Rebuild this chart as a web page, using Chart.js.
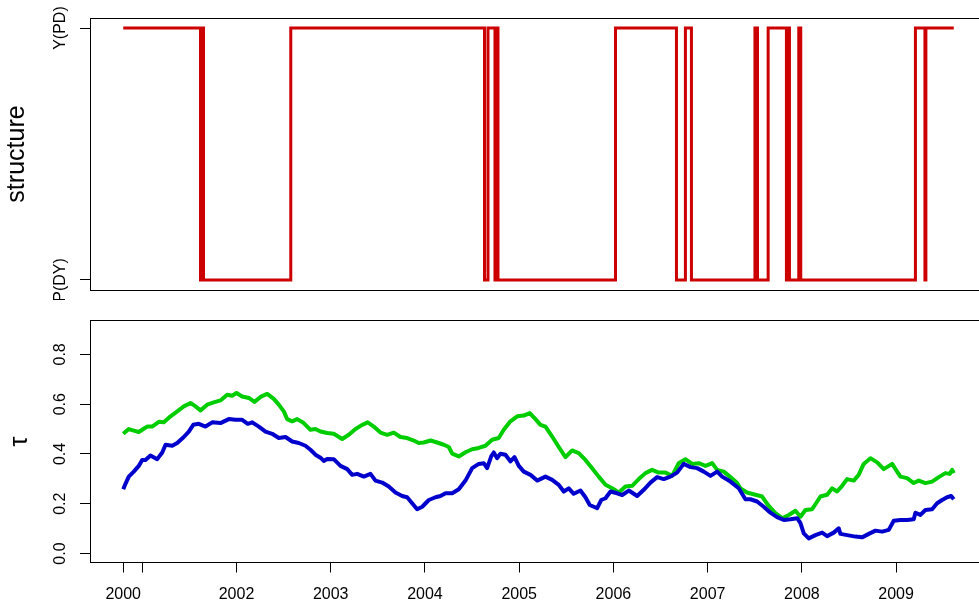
<!DOCTYPE html>
<html>
<head>
<meta charset="utf-8">
<script src="https://cdn.jsdelivr.net/npm/chart.js@4/dist/chart.umd.min.js"></script>
<style>
  html, body { margin: 0; padding: 0; background: #fff; overflow: hidden; width: 979px; height: 608px; }
  canvas { position: absolute; left: 0; }
  #structureChart { top: 0; }
  #tauChart { top: 300px; }
</style>
</head>
<body>
<canvas id="structureChart" width="996" height="300"></canvas>
<canvas id="tauChart" width="996" height="308"></canvas>
<script>
// Regime switches: each entry is the time (decimal year) at which the state starts.
const structureYears = [2000.798, 2001.618, 2001.634, 2001.650, 2002.576, 2004.632, 2004.669, 2004.743,
  2004.759, 2004.775, 2006.022, 2006.669, 2006.764, 2006.828, 2007.502, 2007.529, 2007.642, 2007.836,
  2007.852, 2007.868, 2007.967, 2007.988, 2009.205, 2009.306, 2009.316, 2009.612];
const structureStates = [1, 0, 1, 0, 1, 0, 1, 0, 1, 0, 1, 0, 1, 0, 1, 0, 1, 0, 1, 0, 1, 0, 1, 0, 1, 1];
const structureLevels = ['P(DY)', 'Y(PD)'];

// Rolling Kendall's tau, upper (green) series
const tauGreenYears = [2000.798, 2000.857, 2000.910, 2000.963, 2001.016, 2001.052, 2001.105, 2001.176, 2001.229, 2001.300,
  2001.371, 2001.441, 2001.512, 2001.565, 2001.618, 2001.689, 2001.759, 2001.830, 2001.901, 2001.954,
  2002.000, 2002.060, 2002.131, 2002.191, 2002.255, 2002.326, 2002.396, 2002.449, 2002.502, 2002.538,
  2002.591, 2002.644, 2002.714, 2002.785, 2002.838, 2002.891, 2002.962, 2003.032, 2003.122, 2003.192,
  2003.263, 2003.334, 2003.393, 2003.457, 2003.528, 2003.599, 2003.669, 2003.740, 2003.811, 2003.881,
  2003.934, 2003.987, 2004.059, 2004.130, 2004.200, 2004.253, 2004.289, 2004.359, 2004.430, 2004.501,
  2004.571, 2004.642, 2004.713, 2004.783, 2004.836, 2004.907, 2004.979, 2005.049, 2005.112, 2005.173,
  2005.226, 2005.279, 2005.350, 2005.420, 2005.491, 2005.562, 2005.632, 2005.703, 2005.774, 2005.844,
  2005.916, 2005.987, 2006.057, 2006.128, 2006.199, 2006.269, 2006.340, 2006.411, 2006.481, 2006.552,
  2006.623, 2006.693, 2006.764, 2006.836, 2006.906, 2006.977, 2007.048, 2007.101, 2007.171, 2007.242,
  2007.313, 2007.348, 2007.417, 2007.507, 2007.578, 2007.648, 2007.719, 2007.791, 2007.861, 2007.932,
  2007.985, 2008.038, 2008.109, 2008.197, 2008.268, 2008.321, 2008.374, 2008.427, 2008.480, 2008.550,
  2008.603, 2008.656, 2008.728, 2008.799, 2008.869, 2008.958, 2009.011, 2009.046, 2009.117, 2009.187,
  2009.240, 2009.311, 2009.382, 2009.452, 2009.523, 2009.569, 2009.595, 2009.612];
const tauGreenValues = [0.481, 0.500, 0.494, 0.488, 0.501, 0.510, 0.510, 0.529, 0.527, 0.551,
  0.571, 0.591, 0.605, 0.591, 0.575, 0.598, 0.607, 0.615, 0.638, 0.634,
  0.645, 0.631, 0.625, 0.609, 0.629, 0.641, 0.621, 0.598, 0.571, 0.540,
  0.531, 0.540, 0.524, 0.497, 0.500, 0.490, 0.484, 0.481, 0.460, 0.477,
  0.500, 0.517, 0.527, 0.510, 0.486, 0.477, 0.486, 0.468, 0.464, 0.454,
  0.444, 0.446, 0.454, 0.446, 0.437, 0.428, 0.401, 0.390, 0.407, 0.419,
  0.424, 0.433, 0.457, 0.464, 0.497, 0.531, 0.551, 0.554, 0.564, 0.540,
  0.517, 0.510, 0.470, 0.428, 0.387, 0.414, 0.403, 0.376, 0.343, 0.309,
  0.276, 0.262, 0.245, 0.269, 0.272, 0.299, 0.323, 0.336, 0.325, 0.325,
  0.312, 0.363, 0.379, 0.360, 0.363, 0.352, 0.363, 0.336, 0.329, 0.307,
  0.283, 0.262, 0.245, 0.236, 0.229, 0.191, 0.162, 0.142, 0.155, 0.172,
  0.148, 0.175, 0.178, 0.229, 0.236, 0.262, 0.249, 0.272, 0.299, 0.293,
  0.316, 0.360, 0.383, 0.366, 0.339, 0.360, 0.329, 0.309, 0.303, 0.283,
  0.293, 0.283, 0.289, 0.307, 0.323, 0.320, 0.336, 0.323];

// Rolling Kendall's tau, lower (blue) series
const tauBlueYears = [2000.798, 2000.822, 2000.857, 2000.910, 2000.963, 2000.999, 2001.034, 2001.087, 2001.159, 2001.212,
  2001.247, 2001.318, 2001.371, 2001.441, 2001.494, 2001.541, 2001.600, 2001.671, 2001.742, 2001.830,
  2001.918, 2001.989, 2002.060, 2002.120, 2002.167, 2002.237, 2002.308, 2002.379, 2002.449, 2002.520,
  2002.591, 2002.661, 2002.732, 2002.785, 2002.838, 2002.891, 2002.926, 2002.962, 2003.032, 2003.104,
  2003.175, 2003.228, 2003.281, 2003.351, 2003.422, 2003.475, 2003.546, 2003.616, 2003.687, 2003.758,
  2003.811, 2003.864, 2003.917, 2003.971, 2004.041, 2004.112, 2004.165, 2004.218, 2004.289, 2004.359,
  2004.430, 2004.501, 2004.571, 2004.624, 2004.660, 2004.703, 2004.730, 2004.766, 2004.801, 2004.854,
  2004.907, 2004.950, 2004.996, 2005.049, 2005.120, 2005.191, 2005.279, 2005.350, 2005.420, 2005.473,
  2005.526, 2005.579, 2005.650, 2005.703, 2005.749, 2005.828, 2005.870, 2005.916, 2005.969, 2006.040,
  2006.093, 2006.163, 2006.252, 2006.322, 2006.393, 2006.464, 2006.534, 2006.605, 2006.676, 2006.746,
  2006.818, 2006.889, 2006.959, 2007.030, 2007.101, 2007.154, 2007.242, 2007.330, 2007.401, 2007.454,
  2007.525, 2007.595, 2007.666, 2007.737, 2007.807, 2007.879, 2007.950, 2007.985, 2008.020, 2008.073,
  2008.144, 2008.215, 2008.268, 2008.338, 2008.391, 2008.409, 2008.480, 2008.568, 2008.639, 2008.710,
  2008.781, 2008.852, 2008.922, 2008.975, 2009.046, 2009.117, 2009.187, 2009.205, 2009.258, 2009.311,
  2009.382, 2009.435, 2009.488, 2009.541, 2009.584, 2009.612];
const tauBlueValues = [0.258, 0.280, 0.309, 0.329, 0.352, 0.376, 0.376, 0.394, 0.379, 0.406,
  0.437, 0.433, 0.444, 0.468, 0.490, 0.517, 0.521, 0.510, 0.527, 0.524,
  0.540, 0.537, 0.537, 0.521, 0.527, 0.510, 0.490, 0.481, 0.464, 0.468,
  0.450, 0.444, 0.433, 0.417, 0.397, 0.385, 0.372, 0.380, 0.379, 0.352,
  0.339, 0.316, 0.320, 0.309, 0.320, 0.293, 0.285, 0.269, 0.245, 0.231,
  0.226, 0.202, 0.178, 0.188, 0.215, 0.226, 0.231, 0.242, 0.242, 0.258,
  0.293, 0.343, 0.360, 0.363, 0.343, 0.390, 0.406, 0.383, 0.401, 0.397,
  0.370, 0.387, 0.352, 0.329, 0.316, 0.293, 0.309, 0.296, 0.276, 0.249,
  0.262, 0.240, 0.253, 0.226, 0.195, 0.182, 0.215, 0.222, 0.249, 0.242,
  0.235, 0.253, 0.231, 0.256, 0.285, 0.307, 0.299, 0.309, 0.325, 0.360,
  0.347, 0.343, 0.329, 0.312, 0.329, 0.309, 0.289, 0.262, 0.218, 0.218,
  0.209, 0.188, 0.164, 0.146, 0.135, 0.138, 0.142, 0.122, 0.081, 0.061,
  0.074, 0.084, 0.070, 0.084, 0.101, 0.079, 0.074, 0.068, 0.065, 0.079,
  0.092, 0.088, 0.095, 0.132, 0.135, 0.135, 0.138, 0.164, 0.155, 0.175,
  0.178, 0.202, 0.215, 0.226, 0.231, 0.218];

const tauTicks = [0, 0.2, 0.4, 0.6, 0.8];
const tauTickLabels = ['0.0', '0.2', '0.4', '0.6', '0.8'];
const tauLimits = [0, 0.9];
const yearTicks = [2000, 2001, 2002, 2003, 2004, 2005, 2006, 2007, 2008, 2009];

const FONT = '"Liberation Sans", Arial, Helvetica, sans-serif';
const RED = '#cd0000', BLUE = '#0000cd', GREEN = '#00cd00';

// Axis ranges padded by 4% on each side
const tStart = structureYears[0];
const tEnd = structureYears[structureYears.length - 1];
const tPad = 0.04 * (tEnd - tStart);
const xMin = tStart - tPad, xMax = tEnd + tPad;
const yPad = 0.04 * (tauLimits[1] - tauLimits[0]);

// Year ticks; the first one sits at the start of the sample
const xTickValues = yearTicks.map(y => Math.max(y, tStart));

// Plot frame plus vertical (rotated) y tick labels
const framePlugin = {
  id: 'frame',
  afterDraw(chart, args, opts) {
    const { ctx, chartArea: a } = chart;
    ctx.save();
    ctx.strokeStyle = '#000';
    ctx.lineWidth = 1;
    ctx.strokeRect(Math.floor(a.left) + 0.5, Math.floor(a.top) + 0.5,
      Math.round(a.right - a.left), Math.round(a.bottom - a.top));
    const ys = chart.scales.y;
    ctx.fillStyle = '#000';
    ctx.font = '16px ' + FONT;
    ctx.textAlign = 'center';
    ctx.textBaseline = 'alphabetic';
    opts.values.forEach((v, i) => {
      ctx.save();
      ctx.translate(a.left - 25, ys.getPixelForValue(v));
      ctx.rotate(-Math.PI / 2);
      ctx.fillText(opts.labels[i], 0, 0);
      ctx.restore();
    });
    ctx.restore();
  }
};

function yAxis(min, max, tickValues, title, titlePad) {
  return {
    type: 'linear', min: min, max: max,
    afterBuildTicks: s => { s.ticks = tickValues.map(v => ({ value: v })); },
    afterFit: s => { s.width = 90; },
    ticks: { display: false },
    grid: { drawOnChartArea: false, color: '#000', tickLength: 10, lineWidth: 1 },
    border: { display: false },
    title: { display: true, text: title, color: '#000', font: { family: FONT, size: 25 },
      padding: { top: titlePad, bottom: 0 } }
  };
}

new Chart(document.getElementById('structureChart'), {
  type: 'line',
  data: {
    datasets: [{
      data: structureYears.map((t, i) => ({ x: t, y: structureStates[i] })),
      borderColor: RED, borderWidth: 3, stepped: 'before',
      pointRadius: 0, fill: false
    }]
  },
  options: {
    responsive: false, animation: false, devicePixelRatio: 1,
    layout: { padding: { top: 18, right: 9, bottom: 10, left: 0 } },
    plugins: {
      legend: { display: false }, tooltip: { enabled: false },
      frame: { values: [0, 1], labels: structureLevels }
    },
    scales: {
      x: { type: 'linear', min: xMin, max: xMax, display: false },
      y: yAxis(-0.04, 1.04, [0, 1], 'structure', 2.5)
    }
  },
  plugins: [framePlugin]
});

new Chart(document.getElementById('tauChart'), {
  type: 'line',
  data: {
    datasets: [
      { data: tauBlueYears.map((t, i) => ({ x: t, y: tauBlueValues[i] })),
        borderColor: BLUE, borderWidth: 4, pointRadius: 0, fill: false, tension: 0, borderJoinStyle: 'round' },
      { data: tauGreenYears.map((t, i) => ({ x: t, y: tauGreenValues[i] })),
        borderColor: GREEN, borderWidth: 4, pointRadius: 0, fill: false, tension: 0, borderJoinStyle: 'round' }
    ]
  },
  options: {
    responsive: false, animation: false, devicePixelRatio: 1,
    layout: { padding: { top: 20.5, right: 9, bottom: 0, left: 0 } },
    plugins: {
      legend: { display: false }, tooltip: { enabled: false },
      frame: { values: tauTicks, labels: tauTickLabels }
    },
    scales: {
      x: {
        type: 'linear', min: xMin, max: xMax,
        afterBuildTicks: s => { s.ticks = xTickValues.map(v => ({ value: v })); },
        afterFit: s => { s.height = 45.5; },
        ticks: {
          autoSkip: false, maxRotation: 0, minRotation: 0, padding: 12, color: '#000',
          font: { family: FONT, size: 16 },
          // a year label is left out when its tick is too close to the previous one
          callback: (v, i) => (i > 0 && xTickValues[i] - xTickValues[i - 1] < 0.5) ? '' : String(yearTicks[i])
        },
        grid: { drawOnChartArea: false, color: '#000', tickLength: 10, lineWidth: 1 },
        border: { display: false }
      },
      y: yAxis(tauLimits[0] - yPad, tauLimits[1] + yPad, tauTicks, 'τ', 5)
    }
  },
  plugins: [framePlugin]
});
</script>
</body>
</html>
